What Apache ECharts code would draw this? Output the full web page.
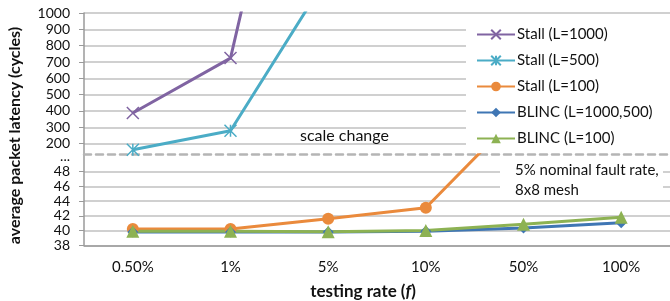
<!DOCTYPE html>
<html>
<head>
<meta charset="utf-8">
<script src="https://cdn.jsdelivr.net/npm/echarts@6/dist/echarts.min.js"></script>
<style>
  html, body { margin: 0; padding: 0; background: #fff; }
  #chart { width: 670px; height: 301px; }
</style>
</head>
<body>
<div id="chart"></div>
<script>
// data
var categories = ['0.50%', '1%', '5%', '10%', '50%', '100%'];
var stall1000 = [388, 724, 3300, null, null, null];
var stall500 = [163, 279, 1230, null, null, null];
var stall100 = [40.2, 40.2, 41.6, 43.1, 56.6, null];
var blinc1000 = [39.8, 39.8, 39.8, 39.9, 40.35, 41.05];
var blinc100 = [39.9, 39.9, 39.85, 40.0, 40.85, 41.8];
var upperTicks = [200, 300, 400, 500, 600, 700, 800, 900, 1000];
var lowerTicks = [38, 40, 42, 44, 46, 48];

var FONT = 'Lato, "Liberation Sans", sans-serif';
var gridColor = '#c0c0c0';
var axisColor = '#9a9a9a';

var colors = {
    purple: '#8064a2',
    aqua: '#4bacc6',
    orange: '#ea8a3c',
    blue: '#3f76b4',
    green: '#8db253'
};

// 上下两个坐标系拼成断轴
var gridLeft = 84, gridWidth = 588;
var upperTop = 13, breakY = 154.7, lowerBottom = 245.3;
var upperMin = 1000 - (breakY - upperTop) / 16.33 * 100;
var lowerMax = 38 + (lowerBottom - breakY) / 7.36;

function lineSeries(name, data, axisIdx, color, symbol, size, extra) {
    var s = {
        name: name,
        type: 'line',
        xAxisIndex: axisIdx,
        yAxisIndex: axisIdx,
        data: data,
        symbol: symbol,
        symbolSize: size,
        connectNulls: false,
        lineStyle: { color: color, width: 3 },
        itemStyle: { color: color },
        emphasis: { disabled: true },
        animation: false
    };
    for (var k in extra) { s[k] = extra[k]; }
    return s;
}

var chart = echarts.init(document.getElementById('chart'));
chart.setOption({
    animation: false,
    textStyle: { fontFamily: FONT },
    grid: [
        { left: gridLeft, width: gridWidth, top: upperTop, height: breakY - upperTop },
        { left: gridLeft, width: gridWidth, top: breakY, height: lowerBottom - breakY }
    ],
    xAxis: [{
        type: 'category',
        gridIndex: 0,
        data: categories,
        axisLine: { lineStyle: { color: '#b5b5b5', width: 2.5, type: [7, 5] } },
        axisTick: { show: false },
        axisLabel: { show: false }
    }, {
        type: 'category',
        gridIndex: 1,
        data: categories,
        axisLine: { lineStyle: { color: axisColor, width: 1.5 } },
        axisTick: { length: 6, lineStyle: { color: axisColor, width: 1.5 } },
        axisLabel: { color: '#111', fontSize: 15, margin: 14, fontFamily: FONT }
    }],
    yAxis: [{
        type: 'value',
        gridIndex: 0,
        min: upperMin,
        max: 1000,
        axisLine: { show: true, lineStyle: { color: axisColor, width: 1.5 } },
        axisTick: { show: true, length: 5, customValues: upperTicks, lineStyle: { color: axisColor } },
        axisLabel: {
            customValues: upperTicks, color: '#111', fontSize: 14, margin: 14, fontFamily: FONT,
            formatter: function(v) { return String(v); }
        },
        splitLine: { lineStyle: { color: gridColor, width: 1.5 } }
    }, {
        type: 'value',
        gridIndex: 1,
        min: 38,
        max: lowerMax,
        axisLine: { show: true, lineStyle: { color: axisColor, width: 1.5 } },
        axisTick: { show: true, length: 5, customValues: lowerTicks, lineStyle: { color: axisColor } },
        axisLabel: {
            customValues: lowerTicks.concat([50]),
            color: '#111', fontSize: 14, margin: 14, fontFamily: FONT,
            formatter: function(v) { return v > 49 ? '...' : String(v); }
        },
        splitLine: { lineStyle: { color: gridColor, width: 1.5 } }
    }],
    legend: {
        orient: 'vertical',
        left: 476,
        top: 27,
        padding: 0,
        itemWidth: 38,
        itemHeight: 12,
        itemGap: 11,
        z: 10,
        textStyle: { fontSize: 15, color: '#111', fontFamily: FONT, padding: [0, 0, 0, -3] },
        data: ['Stall (L=1000)', 'Stall (L=500)', 'Stall (L=100)', 'BLINC (L=1000,500)', 'BLINC (L=100)']
    },
    graphic: [
        // 图例白底
        { type: 'rect', z: 5, shape: { x: 466, y: 18, width: 204, height: 131 }, style: { fill: '#fff' } },
        // 说明文字框
        { type: 'rect', z: 5, shape: { x: 500, y: 160, width: 163, height: 39 }, style: { fill: '#fff' } },
        { type: 'text', z: 6, left: 515, top: 160, style: { text: '5% nominal fault rate,\n8x8 mesh', font: '15px ' + FONT, fill: '#111', lineHeight: 20 } },
        { type: 'text', z: 6, left: 300, top: 128, style: { text: 'scale change', font: '16px ' + FONT, fill: '#111' } },
        // 坐标轴标题
        {
            type: 'text', z: 6, x: 15, y: 135.5, rotation: Math.PI / 2,
            style: { text: 'average packet latency (cycles)', font: 'bold 16px ' + FONT, fill: '#111', align: 'center', verticalAlign: 'middle' }
        },
        {
            type: 'text', z: 6, x: 363, y: 292,
            style: {
                text: '{b|testing rate (}{i|f}{b|)}',
                align: 'center', verticalAlign: 'middle',
                rich: {
                    b: { font: 'bold 17px ' + FONT, fill: '#111' },
                    i: { font: 'italic bold 17px ' + FONT, fill: '#111' }
                }
            }
        }
    ],
    series: [
        lineSeries('Stall (L=1000)', stall1000, 0, colors.purple, 'path://M0,0L10,10M10,0L0,10', 12,
            { itemStyle: { color: 'none', borderColor: colors.purple, borderWidth: 1.5 } }),
        lineSeries('Stall (L=500)', stall500, 0, colors.aqua, 'path://M5,0L5,10M0,0L10,10M10,0L0,10', 12,
            { itemStyle: { color: 'none', borderColor: colors.aqua, borderWidth: 1.5 } }),
        lineSeries('Stall (L=100)', stall100, 1, colors.orange, 'circle', 12, {}),
        lineSeries('BLINC (L=1000,500)', blinc1000, 1, colors.blue, 'diamond', 11, {}),
        lineSeries('BLINC (L=100)', blinc100, 1, colors.green, 'triangle', 13, {})
    ]
});
</script>
</body>
</html>
